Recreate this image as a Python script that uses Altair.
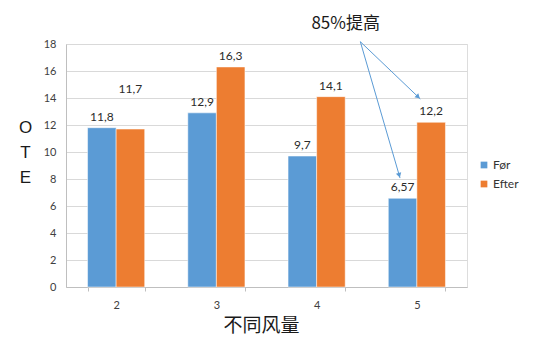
import math
import altair as alt
import pandas as pd

categories = ["2", "3", "4", "5"]
before = [11.8, 12.9, 9.7, 6.57]
after = [11.7, 16.3, 14.1, 12.2]
before_labels = ["11,8", "12,9", "9,7", "6,57"]
after_labels = ["11,7", "16,3", "14,1", "12,2"]
series = ["Før", "Efter"]
colors = ["#5b9bd5", "#ed7d31"]
y_ticks = [0, 2, 4, 6, 8, 10, 12, 14, 16, 18]

# annotation (data coordinates: x on a linear 1.5..5.5 scale aligned with the bands)
ann_text = ["85%提高"]
ann_text_x = [4.29]
ann_text_y = [19.45]
arrow_start_x = [4.436, 4.436]
arrow_start_y = [18.17, 18.17]
arrow_end_x = [5.034, 4.832]
arrow_end_y = [13.93, 8.07]

W, H = 401, 243
PX_X = W / 4.0
PX_Y = H / 18.0

rows = []
for c, b, a, bl, al in zip(categories, before, after, before_labels, after_labels):
    rows.append(dict(cat=c, series="Før", value=b, label=bl))
    rows.append(dict(cat=c, series="Efter", value=a, label=al))
df = pd.DataFrame(rows)
df["raised"] = (df["cat"] == "2") & (df["series"] == "Efter")

arrows = pd.DataFrame(dict(x0=arrow_start_x, y0=arrow_start_y, x1=arrow_end_x, y1=arrow_end_y))
heads = []
for x0, y0, x1, y1 in zip(arrow_start_x, arrow_start_y, arrow_end_x, arrow_end_y):
    dx = (x1 - x0) * PX_X
    dy = -(y1 - y0) * PX_Y
    L = math.hypot(dx, dy)
    ang = math.degrees(math.atan2(dx, -dy)) % 360
    back = 3.0
    hx = x1 - (dx / L) * back / PX_X
    hy = y1 + (dy / L) * back / PX_Y
    heads.append(dict(hx=hx, hy=hy, ang=ang))
heads = pd.DataFrame(heads)
ann = pd.DataFrame(dict(t=ann_text, tx=ann_text_x, ty=ann_text_y))

y_title = ["O", "T", "E"]
yscale = alt.Scale(domain=[0, 18], nice=False)
y_axis = alt.Axis(
    title=y_title,
    values=y_ticks,
    ticks=False,
    domainColor="#bfbfbf",
    gridColor="#d9d9d9",
    labelFont="Lato",
    labelFontSize=11,
    labelColor="#404040",
    labelPadding=10,
    labelOverlap=False,
    titleAngle=0,
    titleFont="Liberation Sans",
    titleFontSize=17,
    titleFontWeight="normal",
    titleColor="#1a1a1a",
    titleX=-41,
    titleY=75,
    titleAlign="center",
    titleBaseline="top",
    titleLineHeight=25,
)

x_axis = alt.Axis(
    title="不同风量",
    labelAngle=0,
    tickBand="extent",
    tickSize=4,
    tickColor="#bfbfbf",
    domainColor="#bfbfbf",
    labelFont="Lato",
    labelFontSize=11,
    labelColor="#404040",
    labelPadding=8,
    titleFont="Noto Sans CJK SC",
    titleFontSize=19,
    titleFontWeight="normal",
    titleColor="#1a1a1a",
    titleX=195,
    titleY=29,
    titleBaseline="top",
    titleAlign="center",
    grid=False,
)
xscale = alt.Scale(paddingInner=0.43, paddingOuter=0.215)
xenc = alt.X("cat:N", sort=categories, scale=xscale, axis=x_axis)
xoff = alt.XOffset("series:N", sort=series, scale=alt.Scale(paddingInner=0, paddingOuter=0))
yenc = alt.Y("value:Q", scale=yscale, axis=y_axis)

bars = alt.Chart(df).mark_bar(stroke="white", strokeWidth=0.5).encode(
    x=xenc,
    xOffset=xoff,
    y=yenc,
    color=alt.Color(
        "series:N",
        sort=series,
        scale=alt.Scale(domain=series, range=colors),
        legend=alt.Legend(
            title=None,
            orient="none",
            legendX=412,
            legendY=115,
            symbolType="square",
            symbolSize=45,
            symbolStrokeWidth=0,
            labelFont="Lato",
            labelFontSize=12,
            labelColor="#333333",
            rowPadding=7,
            labelOffset=3,
        ),
    ),
)

labels = alt.Chart(df).transform_filter("!datum.raised").mark_text(
    baseline="bottom", dy=-4, font="Lato", fontSize=12, color="#2b2b2b"
).encode(x=xenc, xOffset=xoff, y=yenc, text="label:N")

raised_label = alt.Chart(df).transform_filter("datum.raised").mark_text(
    baseline="bottom", dy=-33, font="Lato", fontSize=12, color="#2b2b2b"
).encode(x=xenc, xOffset=xoff, y=yenc, text="label:N")

main = alt.layer(bars, labels, raised_label)

ax_scale = alt.Scale(domain=[1.5, 5.5], nice=False, zero=False)

arrow_lines = alt.Chart(arrows).mark_rule(color="#5b9bd5", strokeWidth=1).encode(
    x=alt.X("x0:Q", scale=ax_scale, axis=None),
    x2="x1:Q",
    y=alt.Y("y0:Q", scale=yscale, axis=y_axis),
    y2="y1:Q",
)

arrow_heads = alt.Chart(heads).mark_point(
    shape="triangle-up", filled=True, color="#5b9bd5", size=30, opacity=1
).encode(
    x=alt.X("hx:Q", scale=ax_scale, axis=None),
    y=alt.Y("hy:Q", scale=yscale, axis=y_axis),
    angle=alt.Angle("ang:Q", scale=None),
)

ann_label = alt.Chart(ann).mark_text(
    font="Noto Sans CJK SC", fontSize=17, fontWeight="normal", color="#1a1a1a",
    align="center", baseline="middle"
).encode(
    x=alt.X("tx:Q", scale=ax_scale, axis=None),
    y=alt.Y("ty:Q", scale=yscale, axis=y_axis),
    text="t:N",
)

annot = alt.layer(arrow_lines, arrow_heads, ann_label)

chart = (
    alt.layer(main, annot)
    .resolve_scale(x="independent")
    .properties(
        width=W,
        height=H,
        autosize=alt.AutoSizeParams(type="none"),
        padding={"left": 66, "top": 44, "right": 77, "bottom": 64},
    )
    .configure_view(stroke=None)
    .configure(background="white")
)

chart.save("out.html", embed_options={"renderer": "svg", "actions": False})
